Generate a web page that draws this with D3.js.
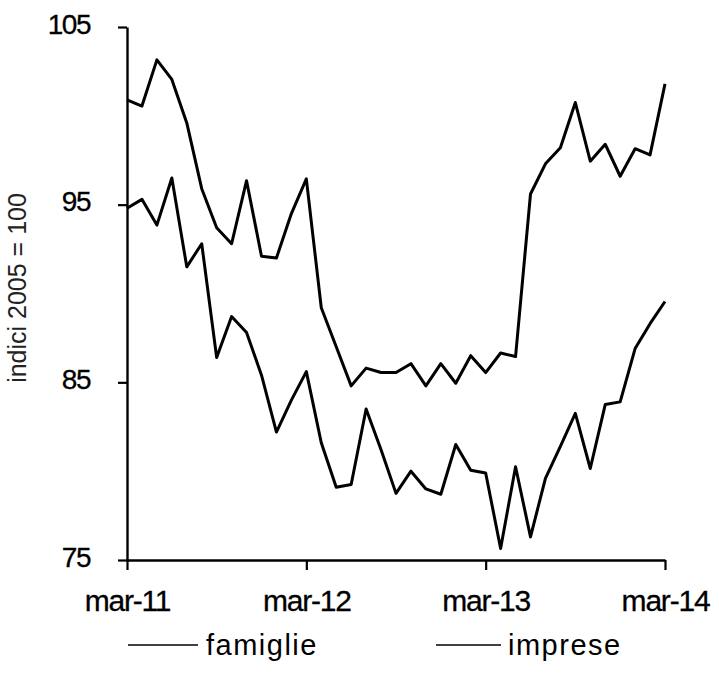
<!DOCTYPE html>
<html>
<head>
<meta charset="utf-8">
<script src="https://cdn.jsdelivr.net/npm/d3@7"></script>
<style>
  html, body { margin: 0; padding: 0; background: #fff; }
  svg { display: block; font-family: "Liberation Sans", Arial, sans-serif; }
</style>
</head>
<body>
<svg id="chart" width="719" height="693"></svg>
<script>
const months = ["mar-11","apr-11","mag-11","giu-11","lug-11","ago-11","set-11","ott-11","nov-11","dic-11","gen-12","feb-12",
  "mar-12","apr-12","mag-12","giu-12","lug-12","ago-12","set-12","ott-12","nov-12","dic-12","gen-13","feb-13",
  "mar-13","apr-13","mag-13","giu-13","lug-13","ago-13","set-13","ott-13","nov-13","dic-13","gen-14","feb-14","mar-14"];
const famiglie = [100.9,100.55,103.15,102.05,99.6,95.9,93.7,92.8,96.35,92.1,92.0,94.5,
  96.45,89.2,87.0,84.8,85.8,85.55,85.55,86.05,84.8,86.05,84.95,86.5,
  85.55,86.65,86.45,95.6,97.3,98.2,100.75,97.45,98.4,96.6,98.15,97.8,101.8];
const imprese = [94.8,95.3,93.85,96.5,91.5,92.8,86.4,88.7,87.8,85.4,82.2,84.0,
  85.6,81.6,79.1,79.25,83.5,81.2,78.75,80.0,79.0,78.7,81.5,80.05,
  79.9,75.65,80.25,76.3,79.6,81.4,83.25,80.15,83.75,83.9,86.9,88.3,89.55];
const xTickLabels = ["mar-11","mar-12","mar-13","mar-14"];
const yTicks = [75, 85, 95, 105];
const seriesNames = ["famiglie","imprese"];
const yTitle = "indici 2005 = 100";

const svg = d3.select("#chart");
const x = d3.scalePoint().domain(months).range([127, 665]);
const y = d3.scaleLinear().domain([75, 105]).range([560, 27]);

// y axis
const yAxis = svg.append("g").attr("transform", "translate(127,0)")
  .call(d3.axisLeft(y).tickValues(yTicks).tickSize(9).tickSizeOuter(0).tickPadding(28));
yAxis.select(".domain").attr("stroke", "#000").attr("stroke-width", 2.4);
yAxis.selectAll(".tick line").attr("stroke", "#000").attr("stroke-width", 2.2);
yAxis.selectAll(".tick text").attr("font-size", 28).attr("fill", "#000")
  .attr("stroke", "#000").attr("stroke-width", 0.3)
  .attr("letter-spacing", -1.5).attr("dy", "0.22em");

// x axis
const xAxis = svg.append("g").attr("transform", "translate(0,560)")
  .call(d3.axisBottom(x).tickValues(xTickLabels).tickSize(10).tickSizeOuter(0).tickPadding(0));
xAxis.select(".domain").attr("stroke", "#000").attr("stroke-width", 2.4);
xAxis.selectAll(".tick line").attr("stroke", "#000").attr("stroke-width", 2.2);
xAxis.selectAll(".tick text").attr("font-size", 30).attr("fill", "#000")
  .attr("stroke", "#000").attr("stroke-width", 0.3)
  .attr("letter-spacing", -1.2).attr("dy", null).attr("y", 51);

// y title
svg.append("text")
  .attr("transform", "translate(26,288) rotate(-90)")
  .attr("text-anchor", "middle")
  .attr("font-size", 25)
  .attr("fill", "#222")
  .text(yTitle);

// lines
const line = d3.line().x((d, i) => x(months[i])).y(d => y(d));
[famiglie, imprese].forEach(s => {
  svg.append("path").datum(s)
    .attr("fill", "none").attr("stroke", "#000")
    .attr("stroke-width", 3).attr("stroke-linejoin", "round")
    .attr("d", line);
});

// legend
const legendPos = [{x1: 128, x2: 198, tx: 206}, {x1: 436, x2: 501, tx: 508}];
seriesNames.forEach((name, i) => {
  const p = legendPos[i];
  svg.append("line").attr("x1", p.x1).attr("x2", p.x2).attr("y1", 645).attr("y2", 645)
    .attr("stroke", "#000").attr("stroke-width", 1.4);
  svg.append("text").attr("x", p.tx).attr("y", 655)
    .attr("font-size", 29).attr("letter-spacing", 1.5).attr("fill", "#000").text(name);
});
</script>
</body>
</html>
